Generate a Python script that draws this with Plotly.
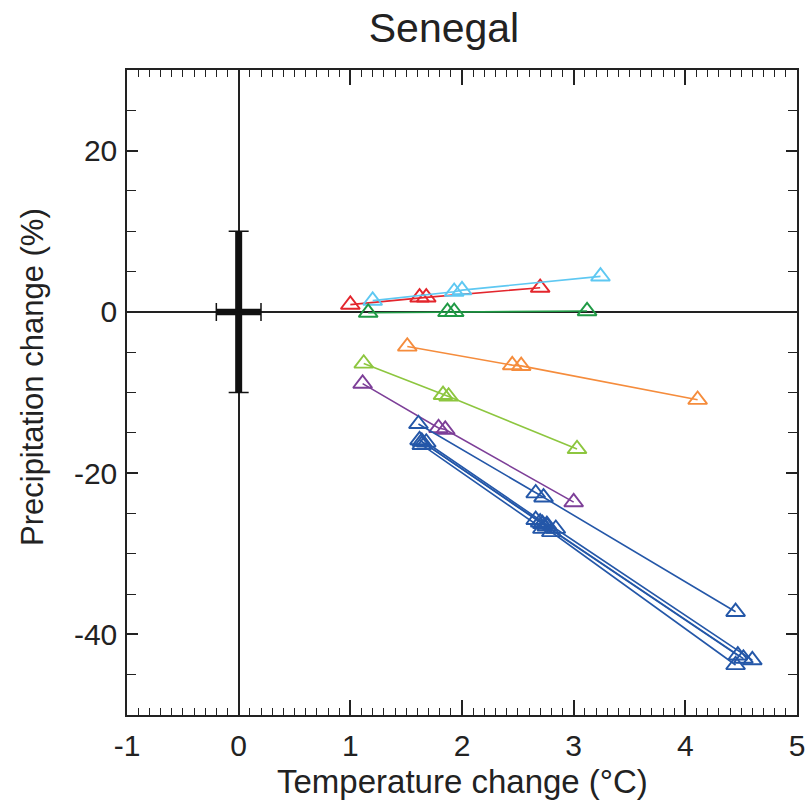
import plotly.graph_objects as go

# ---- data ----
series_names = ["red", "cyan", "darkgreen", "orange", "lightgreen", "purple",
                "blue1", "blue2", "blue3", "blue4", "blue5"]
series_colors = ["#e3262d", "#5ec8f2", "#1f9a45", "#f58c3c", "#8dc63f", "#7d3f98",
                 "#2457a8", "#2457a8", "#2457a8", "#2457a8", "#2457a8"]

temp_red = [1.00, 1.62, 1.68, 2.70]
prec_red = [0.9, 1.8, 1.8, 3.0]
temp_cyan = [1.20, 1.93, 2.00, 3.24]
prec_cyan = [1.4, 2.5, 2.7, 4.4]
temp_dgreen = [1.16, 1.87, 1.93, 3.12]
prec_dgreen = [-0.1, 0.0, 0.0, 0.1]
temp_orange = [1.51, 2.45, 2.53, 4.11]
prec_orange = [-4.3, -6.6, -6.7, -10.9]
temp_lgreen = [1.12, 1.83, 1.88, 3.03]
prec_lgreen = [-6.4, -10.3, -10.5, -17.0]
temp_purple = [1.11, 1.79, 1.85, 3.00]
prec_purple = [-8.9, -14.4, -14.6, -23.6]
temp_blue1 = [1.61, 2.66, 2.73, 4.45]
prec_blue1 = [-13.9, -22.5, -23.0, -37.2]
temp_blue2 = [1.62, 2.66, 2.72, 4.47]
prec_blue2 = [-15.9, -25.8, -26.3, -42.6]
temp_blue3 = [1.64, 2.70, 2.76, 4.52]
prec_blue3 = [-16.1, -26.1, -26.6, -43.0]
temp_blue4 = [1.68, 2.76, 2.84, 4.60]
prec_blue4 = [-16.2, -26.4, -26.9, -43.2]
temp_blue5 = [1.64, 2.72, 2.80, 4.45]
prec_blue5 = [-16.5, -26.9, -27.3, -43.8]

series_temp = [temp_red, temp_cyan, temp_dgreen, temp_orange, temp_lgreen, temp_purple,
               temp_blue1, temp_blue2, temp_blue3, temp_blue4, temp_blue5]
series_prec = [prec_red, prec_cyan, prec_dgreen, prec_orange, prec_lgreen, prec_purple,
               prec_blue1, prec_blue2, prec_blue3, prec_blue4, prec_blue5]

# natural variability (observed) cross at origin
obs_temp = [0.0]
obs_prec = [0.0]
obs_temp_err = [0.2]
obs_prec_err = [10.0]

x_range = [-1, 5]
y_range = [-50, 30]
x_tickvals = [-1, 0, 1, 2, 3, 4, 5]
x_ticktext = ["-1", "0", "1", "2", "3", "4", "5"]
y_tickvals = [-40, -20, 0, 20]
y_ticktext = ["-40", "-20", "0", "20"]

FONT = "Liberation Sans, Arial, Helvetica, sans-serif"
W, H = 808, 802
L, T = 127, 70
R = W - 797
B = H - 715

fig = go.Figure()

# error cross: thick bars
fig.add_trace(go.Scatter(
    x=obs_temp, y=obs_prec, mode="markers", marker=dict(size=0.1, color="black"),
    error_y=dict(type="data", array=obs_prec_err, thickness=7, width=0, color="#111"),
    error_x=dict(type="data", array=obs_temp_err, thickness=6.5, width=0, color="#111"),
    showlegend=False, hoverinfo="skip"))
# caps
fig.add_trace(go.Scatter(
    x=obs_temp, y=obs_prec, mode="markers", marker=dict(size=0.1, color="black"),
    error_y=dict(type="data", array=obs_prec_err, thickness=1.5, width=10, color="#111"),
    showlegend=False, hoverinfo="skip"))
fig.add_trace(go.Scatter(
    x=obs_temp, y=obs_prec, mode="markers", marker=dict(size=0.1, color="black"),
    error_x=dict(type="data", array=obs_temp_err, thickness=1.5, width=9, color="#111"),
    showlegend=False, hoverinfo="skip"))

for name, col, tx, py in zip(series_names, series_colors, series_temp, series_prec):
    fig.add_trace(go.Scatter(
        x=tx, y=py, mode="lines+markers", name=name,
        line=dict(color=col, width=1.6),
        marker=dict(symbol="triangle-up-open", size=16.5, color=col,
                    line=dict(width=1.9, color=col)),
        showlegend=False))

PW, PH = W - L - R, H - T - B
fig.update_layout(
    width=W, height=H,
    margin=dict(l=L, r=R, t=T, b=B, autoexpand=False),
    paper_bgcolor="white", plot_bgcolor="white",
    font=dict(family=FONT, color="#222", size=30),
    title=dict(text="Senegal", x=444 / W, xref="container",
               xanchor="center", y=1 - 28 / H, yanchor="middle",
               font=dict(size=41, family=FONT, color="#222")),
    annotations=[
        dict(text="Temperature change (°C)", xref="paper", yref="paper",
             x=0.5, y=-(781 - 715) / PH, xanchor="center", yanchor="middle",
             showarrow=False, font=dict(size=33, family=FONT, color="#222")),
        dict(text="Precipitation change (%)", xref="paper", yref="paper",
             x=-(127 - 32) / PW, y=(715 - 377) / PH,
             xanchor="center", yanchor="middle", textangle=-90,
             showarrow=False, font=dict(size=31, family=FONT, color="#222")),
    ],
)
fig.update_xaxes(
    range=x_range, tickvals=x_tickvals, ticktext=x_ticktext,
    ticks="inside", ticklen=15, tickwidth=1.5, tickcolor="#222",
    minor=dict(dtick=0.1, ticks="inside", ticklen=7, tickwidth=1.2, tickcolor="#222"),
    showline=True, linecolor="#222", linewidth=1.5, mirror="allticks",
    showgrid=False, zeroline=True, zerolinecolor="#222", zerolinewidth=1.5,
    tickfont=dict(size=30), ticklabelstandoff=3, automargin=False,
)
fig.update_yaxes(
    range=y_range, tickvals=y_tickvals, ticktext=y_ticktext,
    ticks="inside", ticklen=11, tickwidth=1.5, tickcolor="#222",
    minor=dict(dtick=5, ticks="inside", ticklen=9, tickwidth=1.2, tickcolor="#222"),
    showline=True, linecolor="#222", linewidth=1.5, mirror="allticks",
    showgrid=False, zeroline=True, zerolinecolor="#222", zerolinewidth=1.5,
    tickfont=dict(size=30), ticklabelstandoff=2, automargin=False,
)

fig.write_html(
    "out.html",
    config={"displayModeBar": False},
    post_script="document.body.style.margin='0px';document.body.style.overflow='hidden';",
)
